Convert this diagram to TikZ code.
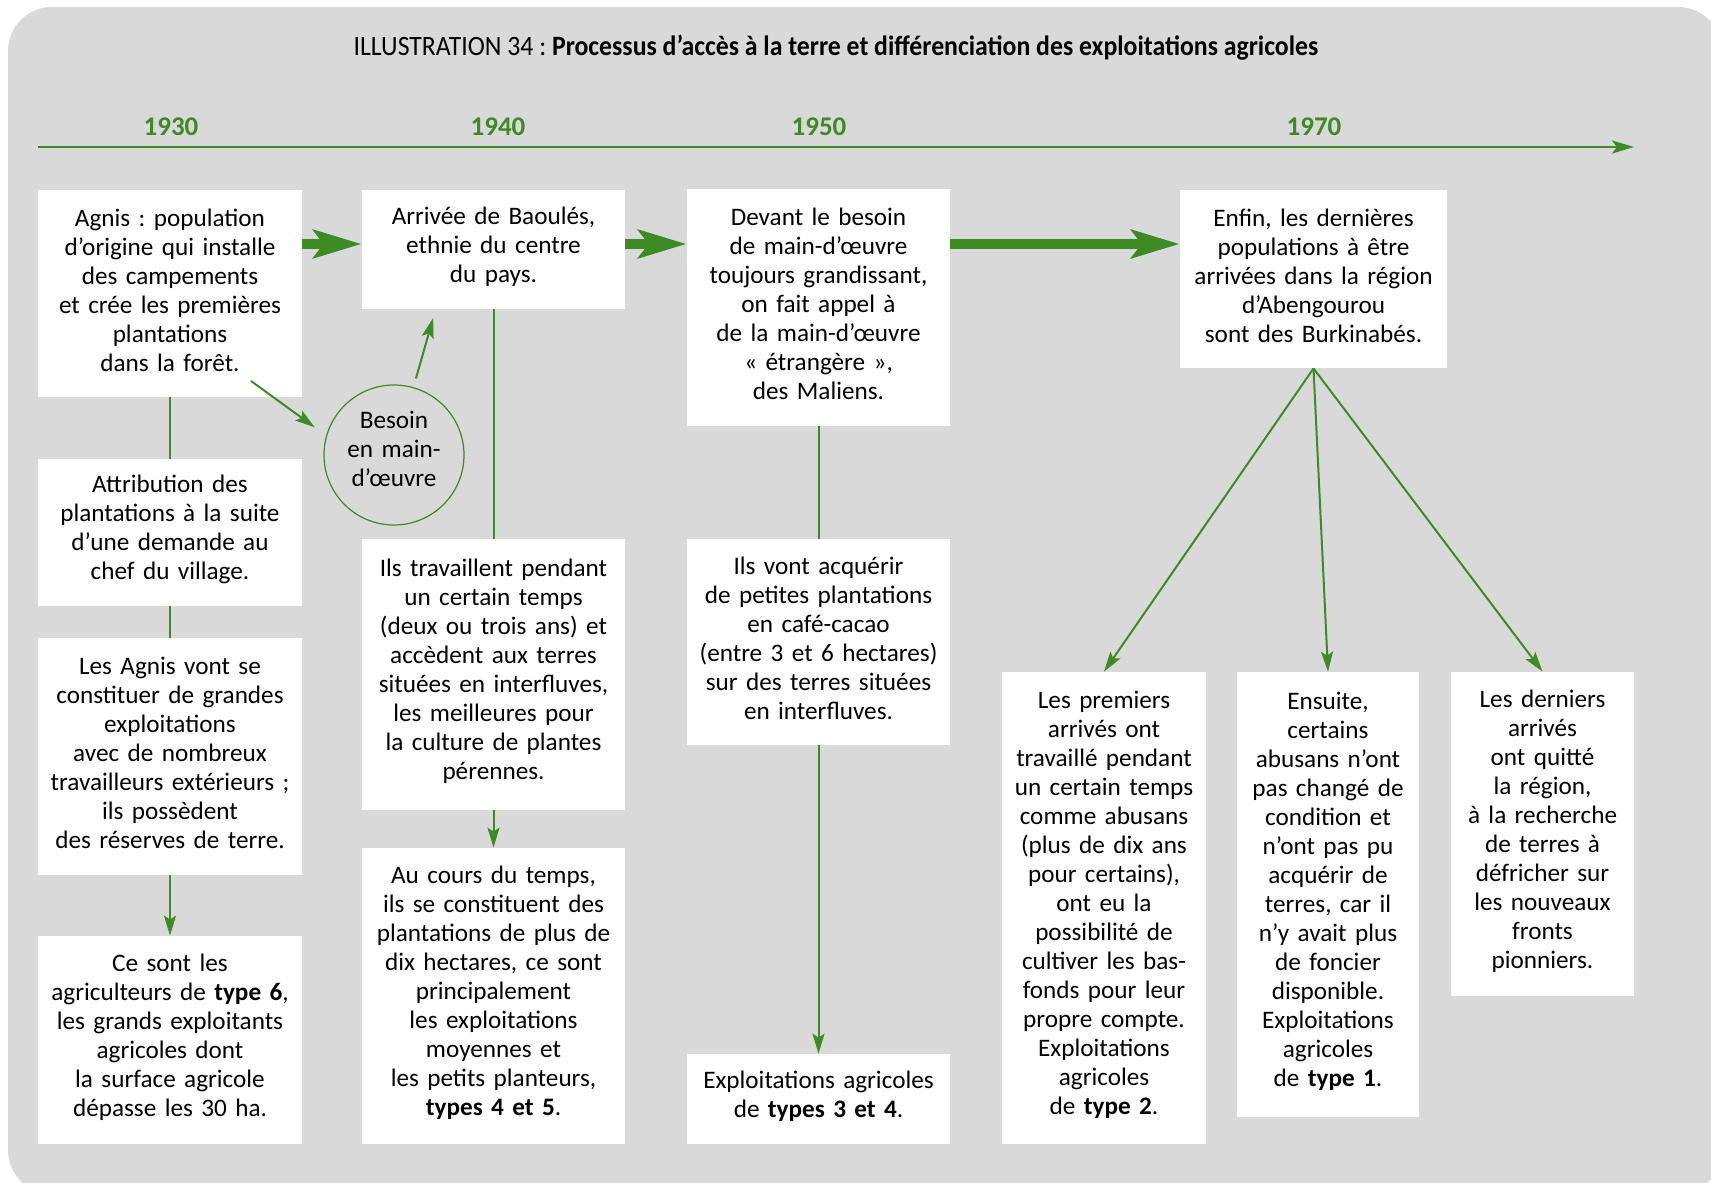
\documentclass[tikz,border=0pt]{standalone}
\usepackage{fontspec}
\setmainfont{Carlito}
\newfontfamily\titlefont[FakeStretch=0.92]{Carlito}
\usetikzlibrary{arrows.meta,shapes.geometric}
\definecolor{AgriGreen}{HTML}{3E8A24}
\definecolor{AgriGray}{HTML}{D9D9D9}
\newcommand{\typ}[1]{\textbf{#1}}
\newcommand{\liftbox}[1]{\endgraf\kern#1}
\frenchspacing

\begin{document}
\begin{tikzpicture}[
  x=0.5pt, y=-0.5pt,
  textbox/.style={fill=white, inner sep=0pt, align=center, font=\fontsize{12.6}{14.5}\selectfont,
    execute at end node=\liftbox{3.2pt}},
  need/.style={circle, draw=AgriGreen, line width=0.6pt, minimum size=70pt, inner sep=0pt, text width=47pt, align=center, font=\fontsize{12.6}{14.5}\selectfont,
    execute at end node=\liftbox{6.5pt}},
  year/.style={text=AgriGreen, font=\fontsize{13.5}{16}\selectfont\bfseries},
  link/.style={draw=AgriGreen, line width=1pt},
  flowarrow/.style={link, -{Stealth[length=10pt, width=6pt, inset=2pt]}},
  bigarrow/.style={draw=AgriGreen, line width=5.25pt, -{Stealth[length=24pt, width=14pt, inset=5pt]}},
  timeline/.style={draw=AgriGreen, line width=1.35pt, -{Stealth[length=11pt, width=6.5pt, inset=2.5pt]}}
]
  \useasboundingbox (0,0) rectangle (1711,1182);
  \fill[AgriGray, rounded corners=22pt] (8,7) rectangle (1722,1194);

  % titre et frise
  \node (title) at (836,48) {\titlefont\fontsize{14}{16}\selectfont ILLUSTRATION 34 : \textbf{Processus d’accès à la terre et différenciation des exploitations agricoles}};
  \coordinate (tstart) at (38,147);
  \coordinate (tend) at (1634,147);
  \draw[timeline] (tstart) -- (tend);
  \foreach \yr/\xx in {1930/171, 1940/498, 1950/819, 1970/1314}
    \node[year] (y\yr) at (\xx,127) {\yr};

  % 1930
  \node[textbox, text width=132pt, minimum height=103.5pt] (agnis) at (170,293.5) {Agnis : population\\d’origine qui installe\\des campements\\et crée les premières\\plantations\\dans la forêt.};
  \node[textbox, text width=132pt, minimum height=73.5pt] (attrib) at (170,532.5) {Attribution des\\plantations à la suite\\d’une demande au\\chef du village.};
  \node[textbox, text width=132pt, minimum height=118.5pt] (grandes) at (170,756.5) {Les Agnis vont se\\constituer de grandes\\exploitations\\avec de nombreux\\travailleurs extérieurs ;\\ils possèdent\\des réserves de terre.};
  \node[textbox, text width=132pt, minimum height=104pt] (type6) at (170,1040) {Ce sont les\\agriculteurs de \typ{type 6},\\les grands exploitants\\agricoles dont\\la surface agricole\\dépasse les 30 ha.};

  % 1940
  \node[textbox, text width=131.5pt, minimum height=59.5pt] (baoules) at (493.5,249.5) {Arrivée de Baoulés,\\ethnie du centre\\du pays.};
  \node[textbox, text width=131.5pt, minimum height=135.5pt] (travail) at (493.5,674.5) {Ils travaillent pendant\\un certain temps\\(deux ou trois ans) et\\accèdent aux terres\\situées en interfluves,\\les meilleures pour\\la culture de plantes\\pérennes.};
  \node[textbox, text width=131.5pt, minimum height=148pt] (type45) at (493.5,996) {Au cours du temps,\\ils se constituent des\\plantations de plus de\\dix hectares, ce sont\\principalement\\les exploitations\\moyennes et\\les petits planteurs,\\\typ{types 4 et 5}.};
  \node[need] (besoin) at (394,455) {Besoin\\\mbox{en main-}\\d’œuvre};
  \coordinate (agnisout) at (251,381);

  % 1950
  \node[textbox, text width=131.5pt, minimum height=118.5pt] (maliens) at (818.5,307.5) {Devant le besoin\\de main-d’œuvre\\toujours grandissant,\\on fait appel à\\de la main-d’œuvre\\« étrangère »,\\des Maliens.};
  \node[textbox, text width=131.5pt, minimum height=103pt] (acquerir) at (818.5,642) {Ils vont acquérir\\de petites plantations\\en café-cacao\\(entre 3 et 6 hectares)\\sur des terres situées\\en interfluves.};
  \node[textbox, text width=131.5pt, minimum height=45pt] (type34) at (818.5,1099) {Exploitations agricoles\\de \typ{types 3 et 4}.};

  % 1970
  \node[textbox, text width=133.5pt, minimum height=89pt] (burkina) at (1313.5,279) {Enfin, les dernières\\populations à être\\arrivées dans la région\\d’Abengourou\\sont des Burkinabés.};
  \node[textbox, text width=102pt, minimum height=236pt] (premiers) at (1104,908) {Les premiers\\arrivés ont\\travaillé pendant\\un certain temps\\comme abusans\\(plus de dix ans\\pour certains),\\ont eu la\\possibilité de\\cultiver les bas-\\fonds pour leur\\propre compte.\\Exploitations\\agricoles\\de \typ{type 2}.};
  \node[textbox, text width=91pt, minimum height=222.5pt] (ensuite) at (1328,894.5) {Ensuite,\\certains\\abusans n’ont\\pas changé de\\condition et\\n’ont pas pu\\acquérir de\\terres, car il\\n’y avait plus\\de foncier\\disponible.\\Exploitations\\agricoles\\de \typ{type 1}.};
  \node[textbox, text width=91.5pt, minimum height=162pt] (derniers) at (1542.5,834) {Les derniers\\arrivés\\ont quitté\\la région,\\à la recherche\\de terres à\\défricher sur\\les nouveaux\\fronts\\pionniers.};

  % liaisons
  \draw[link] (agnis) -- (attrib);
  \draw[link] (attrib) -- (grandes);
  \draw[flowarrow] (grandes) -- (type6);
  \draw[link] (baoules) -- (travail);
  \draw[flowarrow] (travail) -- (type45);
  \draw[link] (maliens) -- (acquerir);
  \draw[flowarrow] (acquerir) -- (type34);
  \draw[flowarrow, shorten >=7pt] (agnisout) -- (besoin.164);
  \draw[flowarrow, shorten <=4.5pt, shorten >=4.5pt] (besoin.74) -- (baoules.-134);

  \draw[bigarrow] (agnis.east |- 0,244) -- (baoules.west |- 0,244);
  \draw[bigarrow] (baoules.east |- 0,244) -- (maliens.west |- 0,244);
  \draw[bigarrow] (maliens.east |- 0,244) -- (burkina.west |- 0,244);

  \foreach \dest in {premiers, ensuite, derniers}
    \draw[flowarrow] (burkina.south) -- (\dest.north);
\end{tikzpicture}
\end{document}
